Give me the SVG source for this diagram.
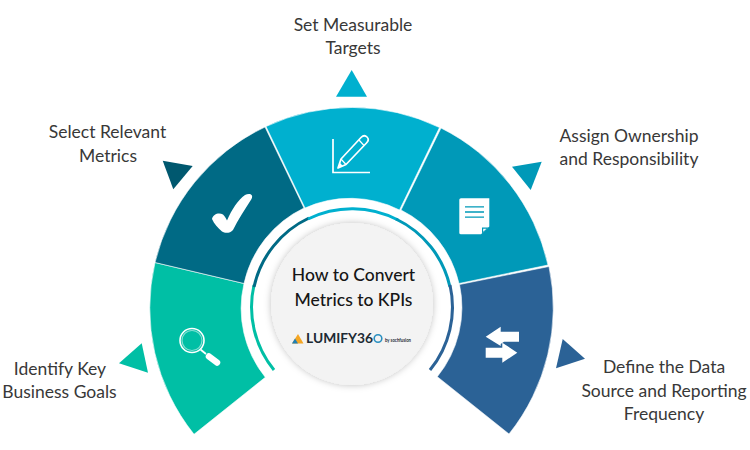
<svg xmlns="http://www.w3.org/2000/svg" width="750" height="450" viewBox="0 0 750 450">
<style>
text{font-family:"Lato","Liberation Sans",sans-serif;fill:#383838;font-size:17.5px;text-anchor:middle}
.t{fill:#161616;font-size:17.5px;font-weight:500}
.ic{fill:#fff}
.ln{fill:none;stroke:#fff}
.rg{fill:none;stroke-width:3}
.w{stroke:#fff;stroke-width:.6}
</style>
<defs>
<filter id="sh" x="-20%" y="-20%" width="140%" height="140%"><feDropShadow dx="0" dy="0" stdDeviation="3.5" flood-color="#000" flood-opacity="0.25"/></filter>
</defs>
<rect width="750" height="450" fill="#fff"/>
<g id="connectors">
<path class="rg" stroke="#00bfa5" d="M274 370A99.500 99.500 0 0 1 254 285"/>
<path class="rg" stroke="#006a85" d="M254 287A99.500 99.500 0 0 1 309 218"/>
<path class="rg" stroke="#00b0cf" d="M308 219A99.500 99.500 0 0 1 398 220"/>
<path class="rg" stroke="#0099b8" d="M396 219A99.500 99.500 0 0 1 450 287"/>
<path class="rg" stroke="#2b6296" d="M450 285A99.500 99.500 0 0 1 430 370"/>
</g>
<g id="node-goals">
<path class="w" fill="#00bfa5" d="M155 262.500A202 202 0 0 0 194 434.300L265.300 377.300A110 110 0 0 1 244 283.500Z"/>
<polygon fill="#00bfa5" points="141.700,343.300 119,363.300 148,372.700"/>
<g>
<circle cx="192" cy="340.500" r="12" fill="none" stroke="#fff" stroke-width="1.600"/>
<circle cx="192" cy="340.500" r="10" fill="none" stroke="#fff" stroke-opacity=".5" stroke-width="1.200"/>
<path class="ln" stroke-width="1.800" d="M200.500 349.500L206 354"/>
<path class="ln" stroke-width="6.500" stroke-linecap="round" d="M209 356.500L217 362.500"/>
</g>
<text x="60" y="375">Identify Key</text>
<text x="59.500" y="397.500">Business Goals</text>
</g>
<g id="node-metrics">
<path class="w" fill="#006a85" d="M265 127A202 202 0 0 0 155 262.500L244 283.500A110 110 0 0 1 304 208Z"/>
<polygon fill="#00586f" points="162.700,160.700 192.700,166 173.300,189.300"/>
<path class="ic" d="M212 219C213 214 219 212 223 214.500C225 216.500 226 218.500 227 220.500C232 209 238 200 245 195C249 193 254 194 251.500 199C245 209 238 220 233 230C230 233.500 225 233.500 222 231.500C218 228 214 224 212 219Z"/>
<text x="107.500" y="138">Select Relevant</text>
<text x="108" y="161.500">Metrics</text>
</g>
<g id="node-targets">
<path class="w" fill="#00b0cf" d="M266 126.500A202 202 0 0 1 439.500 127.500L399.500 210A110 110 0 0 0 305 208Z"/>
<polygon fill="#00b0cf" points="351.700,70 336,96.700 367,96.700"/>
<g>
<path class="ln" stroke-width="1.700" d="M333 139V172.500H370"/>
<path class="ln" stroke-width="1.700" stroke-linejoin="round" d="M341 159L361 137.500C363 135.500 365.500 135.500 367 137C368.500 138.500 368.500 141 366.500 143L346 164.500L338 168Z"/>
<path class="ln" stroke-width="1.200" d="M341 159L346 164.500M359 140L364 145.500"/>
<path class="ic" d="M338 168L340 163L343 166Z"/>
</g>
<text x="353" y="30.500">Set Measurable</text>
<text x="353" y="53.500">Targets</text>
</g>
<g id="node-ownership">
<path class="w" fill="#0099b8" d="M441 128A202 202 0 0 1 548 265L459 283.500A110 110 0 0 0 401 210Z"/>
<polygon fill="#0099b8" points="541.700,161.700 512,166.700 530.700,190"/>
<path class="ic" d="M461 198.300H489.300V226.500L481 234.300H461Q459.300 234.300 459.300 232.800V199.800Q459.300 198.300 461 198.300Z"/>
<path fill="none" stroke="#0099b8" stroke-width="1.300" d="M465 206.800H484M465 212H484M465 217.200H484"/>
<path fill="#0099b8" d="M482 227.500H488.500L482 233.500Z"/>
<path class="ic" d="M483.200 228.700H486.500L483.200 231.800Z"/>
<text x="629" y="141.700">Assign Ownership</text>
<text x="629" y="165">and Responsibility</text>
</g>
<g id="node-source">
<path class="w" fill="#2b6296" d="M549 266.500A202 202 0 0 1 509 434L437.300 376.700A110 110 0 0 0 459.500 284.500Z"/>
<polygon fill="#2b6296" points="562.700,339 585,358.700 556,368.300"/>
<polygon class="ic" points="485.700,336.700 500.700,326.700 500.700,331.700 519,331.700 519,341.700 504,341.700 500.700,344 500.700,346"/>
<polygon class="ic" points="485.700,347.700 502.300,347.700 502.300,342.700 517.300,352.700 502.300,362.700 502.300,357.700 485.700,357.700"/>
<text x="664" y="373">Define the Data</text>
<text x="664" y="396.500">Source and Reporting</text>
<text x="664" y="420">Frequency</text>
</g>
<g id="node-center">
<circle cx="352" cy="304" r="81" fill="#f3f3f3" filter="url(#sh)"/>
<text class="t" x="353.500" y="281">How to Convert</text>
<text class="t" x="353.500" y="306">Metrics to KPIs</text>
<g id="logo">
<polygon fill="#f5a623" points="298,334 292,343.500 303.500,343.500"/>
<polygon fill="#1f7fb5" points="295,338.500 292,343.500 298,343.500"/>
<text x="306" y="343" textLength="67" lengthAdjust="spacingAndGlyphs" style="text-anchor:start;font-size:12.500px;font-weight:700;fill:#1d2a33">LUMIFY36</text>
<circle cx="378" cy="338.500" r="3.800" fill="none" stroke="#2a8fc0" stroke-width="1.600"/>
<text x="385" y="342" textLength="26" lengthAdjust="spacingAndGlyphs" style="text-anchor:start;font-size:5.500px;font-weight:700;fill:#1d2a33">by sochfusion</text>
</g>
</g>
</svg>
